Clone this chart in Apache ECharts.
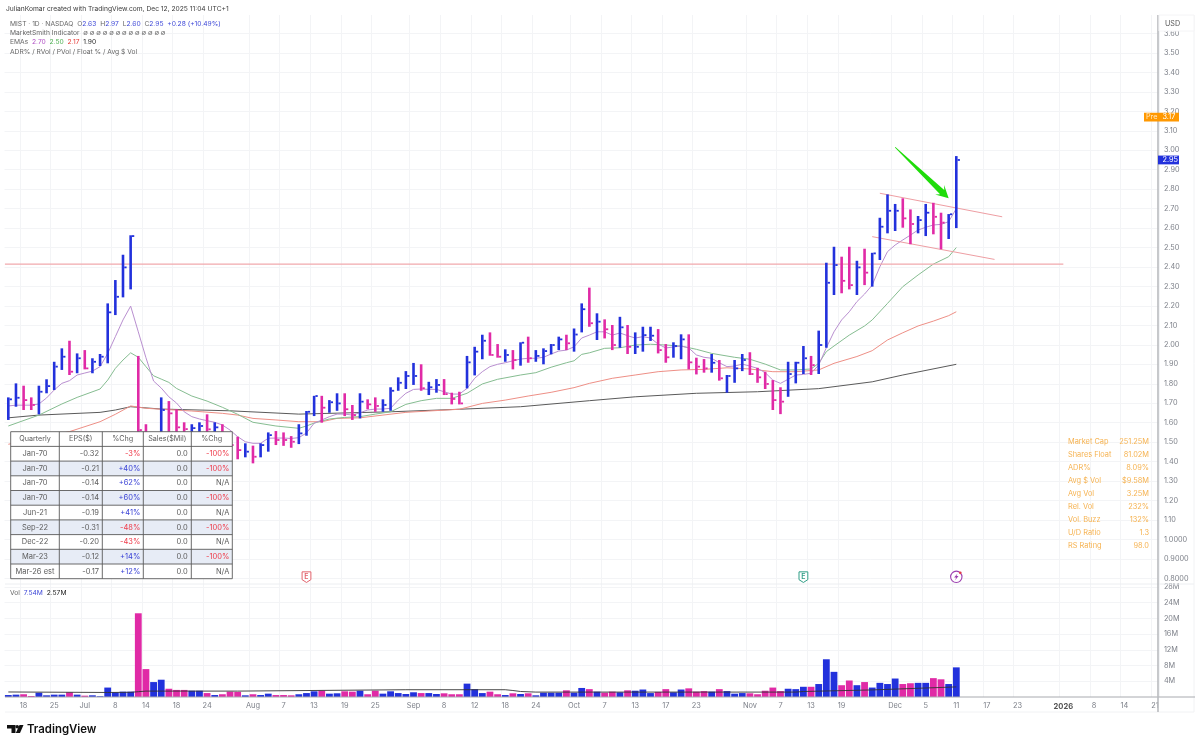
<!DOCTYPE html>
<html>
<head>
<meta charset="utf-8">
<style>html,body{margin:0;padding:0;background:#fff}#c{width:1200px;height:746px}</style>
<script src="https://cdn.jsdelivr.net/npm/echarts@6/dist/echarts.min.js"></script>
</head>
<body>
<div id="c"></div>
<script>
const categories = ['Jun 16','Jun 17','Jun 18','Jun 20','Jun 23','Jun 24','Jun 25','Jun 26','Jun 27','Jun 30',
'Jul 1','Jul 2','Jul 3','Jul 7','Jul 8','Jul 9','Jul 10','Jul 11','Jul 14','Jul 15','Jul 16','Jul 17','Jul 18','Jul 21','Jul 22','Jul 23','Jul 24','Jul 25','Jul 28','Jul 29','Jul 30','Jul 31',
'Aug 1','Aug 4','Aug 5','Aug 6','Aug 7','Aug 8','Aug 11','Aug 12','Aug 13','Aug 14','Aug 15','Aug 18','Aug 19','Aug 20','Aug 21','Aug 22','Aug 25','Aug 26','Aug 27','Aug 28','Aug 29',
'Sep 2','Sep 3','Sep 4','Sep 5','Sep 8','Sep 9','Sep 10','Sep 11','Sep 12','Sep 15','Sep 16','Sep 17','Sep 18','Sep 19','Sep 22','Sep 23','Sep 24','Sep 25','Sep 26','Sep 29','Sep 30',
'Oct 1','Oct 2','Oct 3','Oct 6','Oct 7','Oct 8','Oct 9','Oct 10','Oct 13','Oct 14','Oct 15','Oct 16','Oct 17','Oct 20','Oct 21','Oct 22','Oct 23','Oct 24','Oct 27','Oct 28','Oct 29','Oct 30','Oct 31',
'Nov 3','Nov 4','Nov 5','Nov 6','Nov 7','Nov 10','Nov 11','Nov 12','Nov 13','Nov 14','Nov 17','Nov 18','Nov 19','Nov 20','Nov 21','Nov 24','Nov 25','Nov 26','Nov 28',
'Dec 1','Dec 2','Dec 3','Dec 4','Dec 5','Dec 8','Dec 9','Dec 10','Dec 11','Dec 12','Dec 15','Dec 16','Dec 17','Dec 18','Dec 19','Dec 22','Dec 23','Dec 24','Dec 26','Dec 29','Dec 30','Dec 31',
'Jan 2','Jan 5','Jan 6','Jan 7','Jan 8','Jan 9','Jan 12','Jan 13','Jan 14','Jan 15','Jan 16','Jan 20','Jan 21'];
const tickIndexes = [2,6,10,14,18,22,26,32,36,40,44,48,53,57,61,65,69,74,78,82,86,90,97,101,105,109,116,120,124,128,132,138,142,146,150];
const tickLabels = ['18','25','Jul','8','14','18','24','Aug','7','13','19','25','Sep','8','12','18','24','Oct','7','13','17','23','Nov','7','13','19','Dec','5','11','17','23','2026','8','14','21'];
const priceTicks = [0.8,0.9,1.0,1.1,1.2,1.3,1.4,1.5,1.6,1.7,1.8,1.9,2.0,2.1,2.2,2.3,2.4,2.5,2.6,2.7,2.8,2.9,3.0,3.1,3.2,3.3,3.4,3.5,3.6];
const volTicks = [4,8,12,16,20,24,28];

const highs = [1.730,1.802,1.790,1.730,1.790,1.823,1.913,1.982,2.021,1.956,1.973,1.931,1.953,2.213,2.333,2.463,2.563,1.943,1.592,1.547,1.730,1.711,1.669,1.602,1.592,1.602,1.643,1.602,1.592,1.536,1.528,1.494,1.482,1.494,1.550,1.557,1.550,1.531,1.592,1.660,1.738,1.738,1.716,1.751,1.751,1.691,1.751,1.720,1.730,1.720,1.782,1.833,1.865,1.907,1.900,1.810,1.824,1.824,1.754,1.759,1.943,1.990,2.052,2.064,2.004,1.977,1.973,2.013,2.042,1.973,1.982,2.004,2.042,2.052,2.084,2.213,2.294,2.162,2.131,2.102,2.144,2.102,2.064,2.093,2.093,2.081,2.004,2.013,2.054,2.054,1.934,1.927,1.953,1.922,1.845,1.922,1.953,1.962,1.882,1.862,1.819,1.782,1.913,1.913,1.994,1.943,2.073,2.422,2.504,2.453,2.504,2.432,2.494,2.473,2.653,2.773,2.724,2.753,2.696,2.662,2.724,2.730,2.679,2.672,2.97];
const lows = [1.614,1.682,1.665,1.665,1.643,1.751,1.768,1.871,1.845,1.854,1.874,1.854,1.891,1.905,2.153,2.244,2.285,1.542,1.485,1.434,1.475,1.485,1.511,1.485,1.470,1.485,1.511,1.485,1.460,1.449,1.412,1.422,1.391,1.422,1.451,1.485,1.481,1.471,1.490,1.533,1.634,1.600,1.651,1.661,1.634,1.614,1.622,1.669,1.656,1.656,1.661,1.764,1.773,1.794,1.764,1.742,1.754,1.742,1.694,1.694,1.776,1.843,1.926,1.944,1.934,1.913,1.874,1.893,1.908,1.913,1.900,1.951,1.973,1.973,1.965,2.064,2.093,2.025,2.033,1.973,1.985,1.953,1.953,1.965,2.020,1.956,1.908,1.934,1.926,1.874,1.848,1.857,1.857,1.816,1.754,1.805,1.865,1.845,1.805,1.773,1.665,1.644,1.733,1.802,1.850,1.845,1.850,1.985,2.256,2.265,2.285,2.256,2.307,2.299,2.436,2.573,2.585,2.602,2.517,2.573,2.559,2.568,2.491,2.544,2.60];
const closes = [1.720,1.728,1.716,1.691,1.759,1.788,1.888,1.939,1.862,1.931,1.879,1.913,1.939,2.167,2.247,2.398,2.559,1.562,1.501,1.526,1.665,1.648,1.576,1.567,1.572,1.583,1.566,1.576,1.521,1.485,1.459,1.451,1.425,1.485,1.536,1.511,1.511,1.502,1.545,1.656,1.737,1.677,1.705,1.699,1.669,1.639,1.708,1.694,1.686,1.691,1.764,1.805,1.840,1.840,1.777,1.782,1.794,1.747,1.722,1.699,1.910,1.965,2.021,1.948,1.939,1.948,1.922,2.011,1.931,1.943,1.968,1.999,2.028,2.008,2.053,2.183,2.111,2.119,2.080,1.999,2.090,1.990,1.990,2.050,2.047,1.973,1.936,1.994,2.028,1.910,1.888,1.879,1.908,1.828,1.840,1.879,1.922,1.850,1.833,1.799,1.716,1.708,1.850,1.908,1.931,1.896,1.999,2.319,2.410,2.329,2.307,2.398,2.371,2.470,2.607,2.689,2.689,2.650,2.621,2.641,2.679,2.658,2.628,2.671,2.95];
const upFlags = [1,1,0,0,1,1,1,1,0,1,0,1,1,1,1,1,1,0,0,1,1,0,0,0,1,1,0,1,0,0,0,1,0,1,1,0,0,0,1,1,1,0,1,1,0,0,1,0,0,1,1,1,1,1,0,1,1,0,0,0,1,1,1,0,0,1,0,1,0,1,1,1,1,0,1,1,0,1,0,0,1,0,1,1,1,0,0,1,1,0,0,0,1,0,1,1,1,0,0,0,0,0,1,1,1,0,1,1,1,0,0,1,0,1,1,1,1,0,0,1,1,0,0,1,1];
const volumes = [0.5,0.6,0.7,0.26,1.1,0.43,0.6,0.6,1.2,0.6,0.34,0.43,0.2,2.4,1.2,1.36,1.36,21.3,7.1,3.8,4.4,2.1,1.8,1.8,1.6,1.6,1.0,0.5,0.7,1.36,1.3,0.43,0.7,0.5,0.85,0.5,0.5,0.43,0.7,1.0,1.45,1.6,0.85,0.94,1.45,1.36,1.6,0.7,1.6,0.85,1.45,1.0,0.77,1.2,1.0,1.0,0.77,0.94,0.7,0.7,3.4,2.0,1.0,1.36,0.7,0.5,0.94,0.77,0.94,0.43,1.1,1.1,1.1,1.7,1.1,2.3,2.0,1.36,1.1,1.36,1.2,1.7,1.6,1.9,1.0,1.3,2.0,1.2,1.9,2.2,1.36,1.5,1.36,2.0,1.5,0.85,1.0,0.94,0.7,1.6,2.4,1.5,2.1,2.0,2.6,2.6,3.3,9.6,6.4,3.0,4.2,3.0,3.8,2.4,3.6,3.3,4.7,3.3,3.5,3.6,3.6,4.8,4.5,3.3,7.54];
const volAvg = [[0,1.28],[13,1.15],[16,1.2],[17,1.35],[18,1.5],[30,1.5],[52,1.85],[65,1.85],[66,1.65],[67,1.4],[69,1.25],[103,1.25],[104,1.4],[113,1.8],[124,2.57]];

const emaPurple = [1.686,1.69,1.69,1.69,1.696,1.727,1.768,1.802,1.816,1.845,1.855,1.865,1.888,1.956,2.042,2.128,2.199,2.067,1.934,1.814,1.778,1.733,1.701,1.656,1.631,1.619,1.610,1.602,1.588,1.562,1.528,1.502,1.494,1.494,1.520,1.521,1.521,1.519,1.523,1.547,1.597,1.614,1.631,1.644,1.644,1.639,1.651,1.665,1.670,1.670,1.674,1.716,1.751,1.771,1.773,1.771,1.771,1.759,1.747,1.747,1.776,1.828,1.862,1.888,1.900,1.908,1.918,1.927,1.931,1.931,1.936,1.953,1.968,1.973,1.990,2.035,2.050,2.067,2.067,2.050,2.061,2.047,2.035,2.042,2.035,2.004,1.984,1.989,1.994,1.984,1.948,1.936,1.931,1.908,1.888,1.891,1.901,1.891,1.879,1.857,1.819,1.802,1.823,1.845,1.848,1.854,1.896,1.985,2.067,2.128,2.170,2.222,2.261,2.307,2.401,2.479,2.513,2.539,2.564,2.590,2.604,2.616,2.619,2.633,2.70];
const emaGreen = [[0,1.583],[4,1.639],[7,1.696],[9,1.730],[12,1.773],[13,1.819],[14,1.879],[15,1.922],[16,1.959],[17,1.936],[18,1.888],[19,1.841],[20,1.824],[21,1.807],[22,1.776],[24,1.737],[26,1.711],[28,1.679],[30,1.643],[32,1.602],[35,1.583],[38,1.571],[39,1.583],[40,1.598],[42,1.619],[44,1.627],[46,1.631],[48,1.644],[50,1.656],[52,1.694],[54,1.713],[56,1.725],[58,1.725],[60,1.751],[62,1.799],[64,1.823],[67,1.845],[69,1.857],[71,1.885],[73,1.908],[74,1.918],[75,1.951],[76,1.959],[78,1.982],[80,1.985],[82,1.999],[84,2.003],[86,1.999],[88,1.994],[90,1.977],[92,1.956],[95,1.936],[97,1.926],[99,1.901],[101,1.871],[103,1.871],[105,1.876],[106,1.905],[107,1.965],[108,1.994],[110,2.050],[112,2.097],[113,2.128],[115,2.213],[117,2.299],[119,2.359],[121,2.415],[123,2.453],[124,2.50]];
const emaRed = [[0,1.489],[8,1.554],[12,1.605],[14,1.643],[16,1.686],[18,1.674],[20,1.669],[24,1.660],[28,1.648],[30,1.639],[32,1.622],[35,1.614],[38,1.605],[41,1.605],[43,1.622],[46,1.625],[49,1.639],[52,1.653],[55,1.660],[59,1.669],[62,1.699],[65,1.716],[68,1.737],[71,1.756],[74,1.780],[76,1.802],[79,1.828],[82,1.845],[85,1.862],[88,1.871],[91,1.874],[94,1.882],[97,1.876],[100,1.862],[103,1.862],[106,1.871],[108,1.905],[111,1.940],[113,1.970],[115,2.025],[117,2.062],[119,2.097],[121,2.122],[123,2.150],[124,2.17]];
const emaBlack = [[0,1.625],[4,1.639],[12,1.653],[14,1.665],[16,1.682],[20,1.670],[29,1.661],[38,1.644],[40,1.646],[50,1.656],[59,1.669],[67,1.682],[76,1.713],[82,1.733],[90,1.751],[98,1.759],[106,1.775],[113,1.810],[117,1.845],[124,1.90]];

const levelLine = [0,2.415,138,2.415];
const upperTrend = [114,2.779,129.9,2.658];
const lowerTrend = [113,2.556,129,2.439];
const arrowLine = [116.2,3.015,122.75,2.753];
const eventIndexes = [39,104,124];
const eventKinds = ['red','green','purple'];
const eventPrice = 0.80;
const priceTagValues = [3.17,2.95];

const tableHeader = ['Quarterly','EPS($)','%Chg','Sales($Mil)','%Chg'];
const quarters = ['Jan-70','Jan-70','Jan-70','Jan-70','Jun-21','Sep-22','Dec-22','Mar-23','Mar-26 est'];
const epsVals = ['-0.32','-0.21','-0.14','-0.14','-0.19','-0.31','-0.20','-0.12','-0.17'];
const epsChg = ['-3%','+40%','+62%','+60%','+41%','-48%','-43%','+14%','+12%'];
const salesVals = ['0.0','0.0','0.0','0.0','0.0','0.0','0.0','0.0','0.0'];
const salesChg = ['-100%','-100%','N/A','-100%','N/A','-100%','N/A','-100%','N/A'];
const statNames = ['Market Cap','Shares Float','ADR%','Avg $ Vol','Avg Vol','Rel. Vol','Vol. Buzz','U/D Ratio','RS Rating'];
const statVals = ['251.25M','81.02M','8.09%','$9.58M','3.25M','232%','132%','1.3','98.0'];

const BLUE='#2231dc', MAG='#e02aa6', FONT='Inter, "Noto Sans", sans-serif', GRIDC='#f3f4f6', AXT='#7d8089';
const tickSet = new Set(tickIndexes);
const intervalFn = (i)=>tickSet.has(i);
const fmtX = (v,i)=>{const k=tickIndexes.indexOf(i); if(k<0) return ''; const s=tickLabels[k]; return s==='2026'?'{b|2026}':s;};

const G = [];
function txt(x,y,t,o){G.push(Object.assign({type:'text',x,y,z:100,style:Object.assign({text:t,fontFamily:FONT,fontSize:6.8,fill:'#555',verticalAlign:'middle'},o||{})}));}
function rect(x,y,w,h,fill,stroke,lw){G.push({type:'rect',z:99,shape:{x,y,width:w,height:h},style:{fill:fill||'none',stroke:stroke||'none',lineWidth:lw||1}});}
function hvline(x1,y1,x2,y2,c,lw,z){G.push({type:'line',z:z||50,shape:{x1,y1,x2,y2},style:{stroke:c,lineWidth:lw}});}

// frame
hvline(5,584,1194,584,'#eceef1',1);
hvline(5,712,1194,712,'#f1f2f4',1);
hvline(1194,15,1194,712,'#f1f2f4',1);
hvline(5,697,1195,697,'#a8aaaf',1);
hvline(1158,15,1158,712,'#b9bbbf',1.6);
rect(1159,15,35,16,'#fff','#f4f4f6',1);
txt(1165,24,'USD',{fill:'#555',fontSize:7.2});

// header
txt(6,9,'JulianKomar created with TradingView.com, Dec 12, 2025 11:04 UTC+1',{fill:'#3a3a3a',fontSize:6.7});
const F=6.7, rich={g:{fill:'#666',fontFamily:FONT,fontSize:F},b:{fill:'#3f49d8',fontFamily:FONT,fontSize:F},p:{fill:'#b04fc4',fontFamily:FONT,fontSize:F},n:{fill:'#4caf50',fontFamily:FONT,fontSize:F},r:{fill:'#e53935',fontFamily:FONT,fontSize:F},k:{fill:'#222',fontFamily:FONT,fontSize:F}};
txt(10,24,'{g|MIST · 1D · NASDAQ  O}{b|2.63}{g|  H}{b|2.97}{g|  L}{b|2.60}{g|  C}{b|2.95}{b|  +0.28 (+10.49%)}',{rich});
txt(10,33,'{g|MarketSmith Indicator  ∅ ∅ ∅ ∅ ∅ ∅ ∅ ∅ ∅ ∅ ∅ ∅ ∅}',{rich});
txt(10,42,'{g|EMAs  }{p|2.70}{g|  }{n|2.50}{g|  }{r|2.17}{g|  }{k|1.90}',{rich});
txt(10,52,'{g|ADR% / RVol / PVol / Float % / Avg $ Vol}',{rich});
txt(10,593,'{g|Vol  }{b|7.54M}{g|  }{k|2.57M}',{rich});

// stats
statNames.forEach((s,i)=>{const y=441.7+i*13;
  txt(1068,y,s,{fill:'#f6b352',fontSize:7.4});
  txt(1149,y,statVals[i],{fill:'#f6b352',fontSize:7.4,align:'right'});});

// table
const colX=[10.7,59.3,102.3,143.3,191.3,232.3], rowH=14.7, tTop=431.7;
rect(colX[0],tTop,colX[5]-colX[0],rowH*10,'#fff');
quarters.forEach((q,i)=>{ if(i%2===1) rect(colX[0],tTop+rowH*(i+1),colX[5]-colX[0],rowH,'#e7ecf6'); });
for(let r=0;r<=10;r++) hvline(colX[0],tTop+r*rowH,colX[5],tTop+r*rowH,'#5a5a5a',0.9,100);
colX.forEach(x=>hvline(x,tTop,x,tTop+10*rowH,'#5a5a5a',0.9,100));
const tc='#5c5c5c', fs=7.5;
tableHeader.forEach((h,c)=>txt((colX[c]+colX[c+1])/2,tTop+rowH/2,h,{fill:tc,fontSize:7.2,align:'center'}));
const chgColor=s=>s==='N/A'?tc:(s[0]==='+'?'#3b43d6':'#ef3b4a');
quarters.forEach((q,i)=>{const y=tTop+rowH*(i+1.5);
  txt((colX[0]+colX[1])/2,y,q,{fill:tc,fontSize:fs,align:'center'});
  txt(99,y,epsVals[i],{fill:tc,fontSize:fs,align:'right'});
  txt(140.3,y,epsChg[i],{fill:chgColor(epsChg[i]),fontSize:fs,align:'right'});
  txt(187.7,y,salesVals[i],{fill:tc,fontSize:fs,align:'right'});
  txt(229.3,y,salesChg[i],{fill:chgColor(salesChg[i]),fontSize:fs,align:'right'});
});

// TradingView logo
G.push({type:'polygon',z:100,shape:{points:[[7,725],[15.5,725],[15.5,733],[11.5,733],[11.5,728.5],[7,728.5]]},style:{fill:'#111'}});
G.push({type:'circle',z:100,shape:{cx:17.2,cy:726.8,r:1.8},style:{fill:'#111'}});
G.push({type:'polygon',z:100,shape:{points:[[19.5,725],[23.5,725],[20,733],[15.8,733]]},style:{fill:'#111'}});
txt(27,729.5,'TradingView',{fill:'#111',fontSize:11.4,fontWeight:600});

function segSeries(arr,color,width,name,leftPad){
  return {type:'custom',name,xAxisIndex:0,yAxisIndex:0,clip:false,z:3,silent:true,
    data:[arr],encode:{x:[0,2],y:[1,3]},
    renderItem:(p,api)=>{const a=api.coord([api.value(0),api.value(1)]),b=api.coord([api.value(2),api.value(3)]);
      return {type:'line',shape:{x1:a[0]-(leftPad||0),y1:a[1],x2:b[0],y2:b[1]},style:{stroke:color,lineWidth:width}};}};
}
function lineSeries(d,color,width,name){
  return {type:'line',name,data:d,xAxisIndex:0,yAxisIndex:0,showSymbol:false,smooth:false,silent:true,z:2,lineStyle:{color,width},itemStyle:{color}};
}

const option={
  animation:false,backgroundColor:'#fff',
  textStyle:{fontFamily:FONT},
  graphic:G,
  grid:[{left:4.5,width:1154.4,top:15,height:569},{left:4.5,width:1154.4,top:584,height:113}],
  xAxis:[
    {type:'category',gridIndex:0,data:categories,boundaryGap:true,axisLine:{show:false},axisLabel:{show:false},
      axisTick:{show:false,alignWithLabel:true,interval:intervalFn},splitLine:{show:true,interval:intervalFn,lineStyle:{color:GRIDC,width:1}}},
    {type:'category',gridIndex:1,data:categories,boundaryGap:true,axisLine:{show:false},
      axisTick:{show:false,alignWithLabel:true,interval:intervalFn},splitLine:{show:true,interval:intervalFn,lineStyle:{color:GRIDC,width:1}},
      axisLabel:{interval:intervalFn,formatter:fmtX,color:AXT,fontSize:7.4,margin:5.5,hideOverlap:false,rich:{b:{fontWeight:700,color:'#555',fontSize:7.6,fontFamily:FONT}}}}
  ],
  yAxis:[
    {type:'value',gridIndex:0,position:'right',min:0.771,max:3.695,axisLine:{show:false},
      axisTick:{show:false,customValues:priceTicks},splitLine:{show:true,lineStyle:{color:GRIDC,width:1}},
      axisLabel:{customValues:priceTicks,color:AXT,fontSize:7.3,margin:5,formatter:v=>v>=1.05?v.toFixed(2):v.toFixed(4)}},
    {type:'value',gridIndex:1,position:'right',min:0,max:28.75,axisLine:{show:false},
      axisTick:{show:false,customValues:volTicks},splitLine:{show:true,lineStyle:{color:GRIDC,width:1}},
      axisLabel:{customValues:volTicks,color:AXT,fontSize:7.3,margin:5,formatter:v=>v+'M'}}
  ],
  series:[
    lineSeries(emaBlack,'#5a5a5a',1,'EMA 200'),
    lineSeries(emaRed,'#ee8f86',1,'EMA 50'),
    lineSeries(emaGreen,'#86bd91',1,'EMA 20'),
    lineSeries(emaPurple,'#b98fd0',1,'EMA 10'),
    segSeries(levelLine,'#f1a9ad',1.4,'Level',3.4),
    segSeries(upperTrend,'#ee9ea3',1,'Upper trend'),
    segSeries(lowerTrend,'#ee9ea3',1,'Lower trend'),
    {type:'custom',name:'Price',xAxisIndex:0,yAxisIndex:0,z:4,silent:true,
      data:highs.map((h,i)=>[i,h,lows[i],closes[i]]),encode:{x:0,y:[1,2,3]},
      renderItem:(p,api)=>{
        const i=api.value(0),hi=api.coord([i,api.value(1)]),lo=api.coord([i,api.value(2)]),c=api.coord([i,api.value(3)]);
        const col=upFlags[p.dataIndex]?BLUE:MAG;
        return {type:'group',children:[
          {type:'rect',shape:{x:hi[0]-1.3,y:hi[1],width:2.6,height:lo[1]-hi[1]},style:{fill:col}},
          {type:'rect',shape:{x:c[0]+1.3,y:c[1]-0.9,width:2.3,height:1.8},style:{fill:col}}
        ]};}
    },
    {type:'custom',name:'Arrow',xAxisIndex:0,yAxisIndex:0,clip:false,z:5,silent:true,
      data:[arrowLine],encode:{x:[0,2],y:[1,3]},
      renderItem:(p,api)=>{
        const a=api.coord([api.value(0),api.value(1)]),b=api.coord([api.value(2),api.value(3)]);
        let dx=b[0]-a[0],dy=b[1]-a[1];const L=Math.hypot(dx,dy);dx/=L;dy/=L;const nx=-dy,ny=dx;
        const pt=(t,s)=>[a[0]+dx*t+nx*s,a[1]+dy*t+ny*s];
        return {type:'polygon',shape:{points:[pt(0,-0.4),pt(0,0.4),pt(L-9,3),pt(L-12.5,6.5),pt(L,0),pt(L-12.5,-6.5),pt(L-9,-3)]},style:{fill:'#1fdc0a'}};}
    },
    {type:'custom',name:'Events',xAxisIndex:0,yAxisIndex:0,clip:false,z:5,silent:true,
      data:eventIndexes.map(i=>[i,eventPrice]),encode:{x:0,y:1},
      renderItem:(p,api)=>{
        const c=api.coord([api.value(0),api.value(1)]),x=c[0],y=c[1]-1.5;
        const k=eventKinds[p.dataIndex];
        if(k==='purple'){
          return {type:'group',children:[
            {type:'circle',shape:{cx:x,cy:y,r:5.7},style:{fill:'#fff',stroke:'#9c3fb0',lineWidth:1.1}},
            {type:'polygon',shape:{points:[[x+1.2,y-3.4],[x-2.2,y+0.6],[x-0.2,y+0.6],[x-1.2,y+3.4],[x+2.2,y-0.8],[x+0.2,y-0.8]]},style:{fill:'#9c3fb0'}},
            {type:'circle',shape:{cx:x+4,cy:y-4,r:1.3},style:{fill:'#e03a4a'}}
          ]};
        }
        const col=k==='red'?'#e2626c':'#2f9e86';
        return {type:'group',children:[
          {type:'polygon',shape:{points:[[x-4.4,y-5],[x+4.4,y-5],[x+4.4,y+2.8],[x,y+5.6],[x-4.4,y+2.8]]},style:{fill:'#fff',stroke:col,lineWidth:1}},
          {type:'text',style:{x,y:y-0.3,text:'E',fill:col,fontSize:7,fontWeight:600,fontFamily:FONT,align:'center',verticalAlign:'middle'}}
        ]};}
    },
    {type:'custom',name:'Price tags',xAxisIndex:0,yAxisIndex:0,clip:false,z:60,silent:true,
      data:priceTagValues.map(v=>[124,v]),encode:{x:0,y:1},
      renderItem:(p,api)=>{
        const y=api.coord([api.value(0),api.value(1)])[1],v=api.value(1);
        if(p.dataIndex===0) return {type:'group',children:[
          {type:'rect',shape:{x:1144,y:y-4.4,width:35,height:8.8},style:{fill:'#ff9800'}},
          {type:'text',style:{x:1146,y:y,text:'Pre',fill:'#ffe9c7',fontSize:7.2,fontFamily:FONT,verticalAlign:'middle'}},
          {type:'text',style:{x:1162.5,y:y,text:v.toFixed(2),fill:'#fff',fontSize:7.3,fontFamily:FONT,verticalAlign:'middle'}}
        ]};
        return {type:'group',children:[
          {type:'rect',shape:{x:1158,y:y-4.4,width:21,height:8.8},style:{fill:BLUE}},
          {type:'text',style:{x:1162.5,y:y,text:v.toFixed(2),fill:'#fff',fontSize:7.3,fontFamily:FONT,verticalAlign:'middle'}}
        ]};}
    },
    {type:'bar',name:'Volume',xAxisIndex:1,yAxisIndex:1,barWidth:6.8,silent:true,z:2,
      data:volumes.map((v,i)=>({value:v,itemStyle:{color:upFlags[i]?BLUE:MAG}}))},
    {type:'line',name:'Volume average',xAxisIndex:1,yAxisIndex:1,data:volAvg,showSymbol:false,silent:true,z:3,lineStyle:{color:'#333',width:0.9}}
  ]
};
const chart=echarts.init(document.getElementById('c'));
chart.setOption(option);
</script>
</body>
</html>
